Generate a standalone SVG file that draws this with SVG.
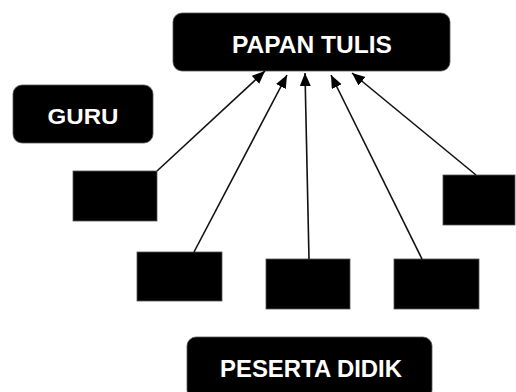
<svg xmlns="http://www.w3.org/2000/svg" width="516" height="392" viewBox="0 0 516 392">
<style>
.node{fill:#000;stroke:#555;stroke-width:0.8}
.lbl{fill:#fff;font-family:"Liberation Sans",Arial,sans-serif;font-weight:bold;text-anchor:middle}
.conn{stroke:#111;stroke-width:1.6;fill:none;marker-end:url(#ah)}
</style>
<defs>
<marker id="ah" markerUnits="userSpaceOnUse" markerWidth="14" markerHeight="12" refX="13" refY="5.5" orient="auto">
<path d="M0,0 L13,5.5 L0,11 z" fill="#000"/>
</marker>
</defs>
<rect width="516" height="392" fill="#fff"/>
<g id="papan-tulis">
<rect class="node" x="173" y="13" width="277" height="58" rx="9"/>
<text class="lbl" x="312" y="53" font-size="24" textLength="160" lengthAdjust="spacingAndGlyphs">PAPAN TULIS</text>
</g>
<g id="guru">
<rect class="node" x="13" y="85" width="140" height="58" rx="9"/>
<text class="lbl" x="83" y="124" font-size="22" textLength="71" lengthAdjust="spacingAndGlyphs">GURU</text>
</g>
<g id="box1"><rect class="node" x="73" y="171" width="84" height="50"/></g>
<g id="box2"><rect class="node" x="137" y="252" width="85" height="49"/></g>
<g id="box3"><rect class="node" x="266" y="259" width="84" height="50"/></g>
<g id="box4"><rect class="node" x="394" y="259" width="85" height="50"/></g>
<g id="box5"><rect class="node" x="443" y="175" width="72" height="50"/></g>
<g id="peserta-didik">
<rect class="node" x="187" y="337" width="245" height="62" rx="9"/>
<text class="lbl" x="311" y="377" font-size="23" textLength="182" lengthAdjust="spacingAndGlyphs">PESERTA DIDIK</text>
</g>
<g id="connectors">
<line class="conn" x1="157" y1="171" x2="265" y2="71"/>
<line class="conn" x1="194" y1="252" x2="287" y2="75"/>
<line class="conn" x1="309" y1="259" x2="305" y2="73"/>
<line class="conn" x1="422" y1="259" x2="331" y2="75"/>
<line class="conn" x1="476" y1="175" x2="352" y2="73"/>
</g>
</svg>
